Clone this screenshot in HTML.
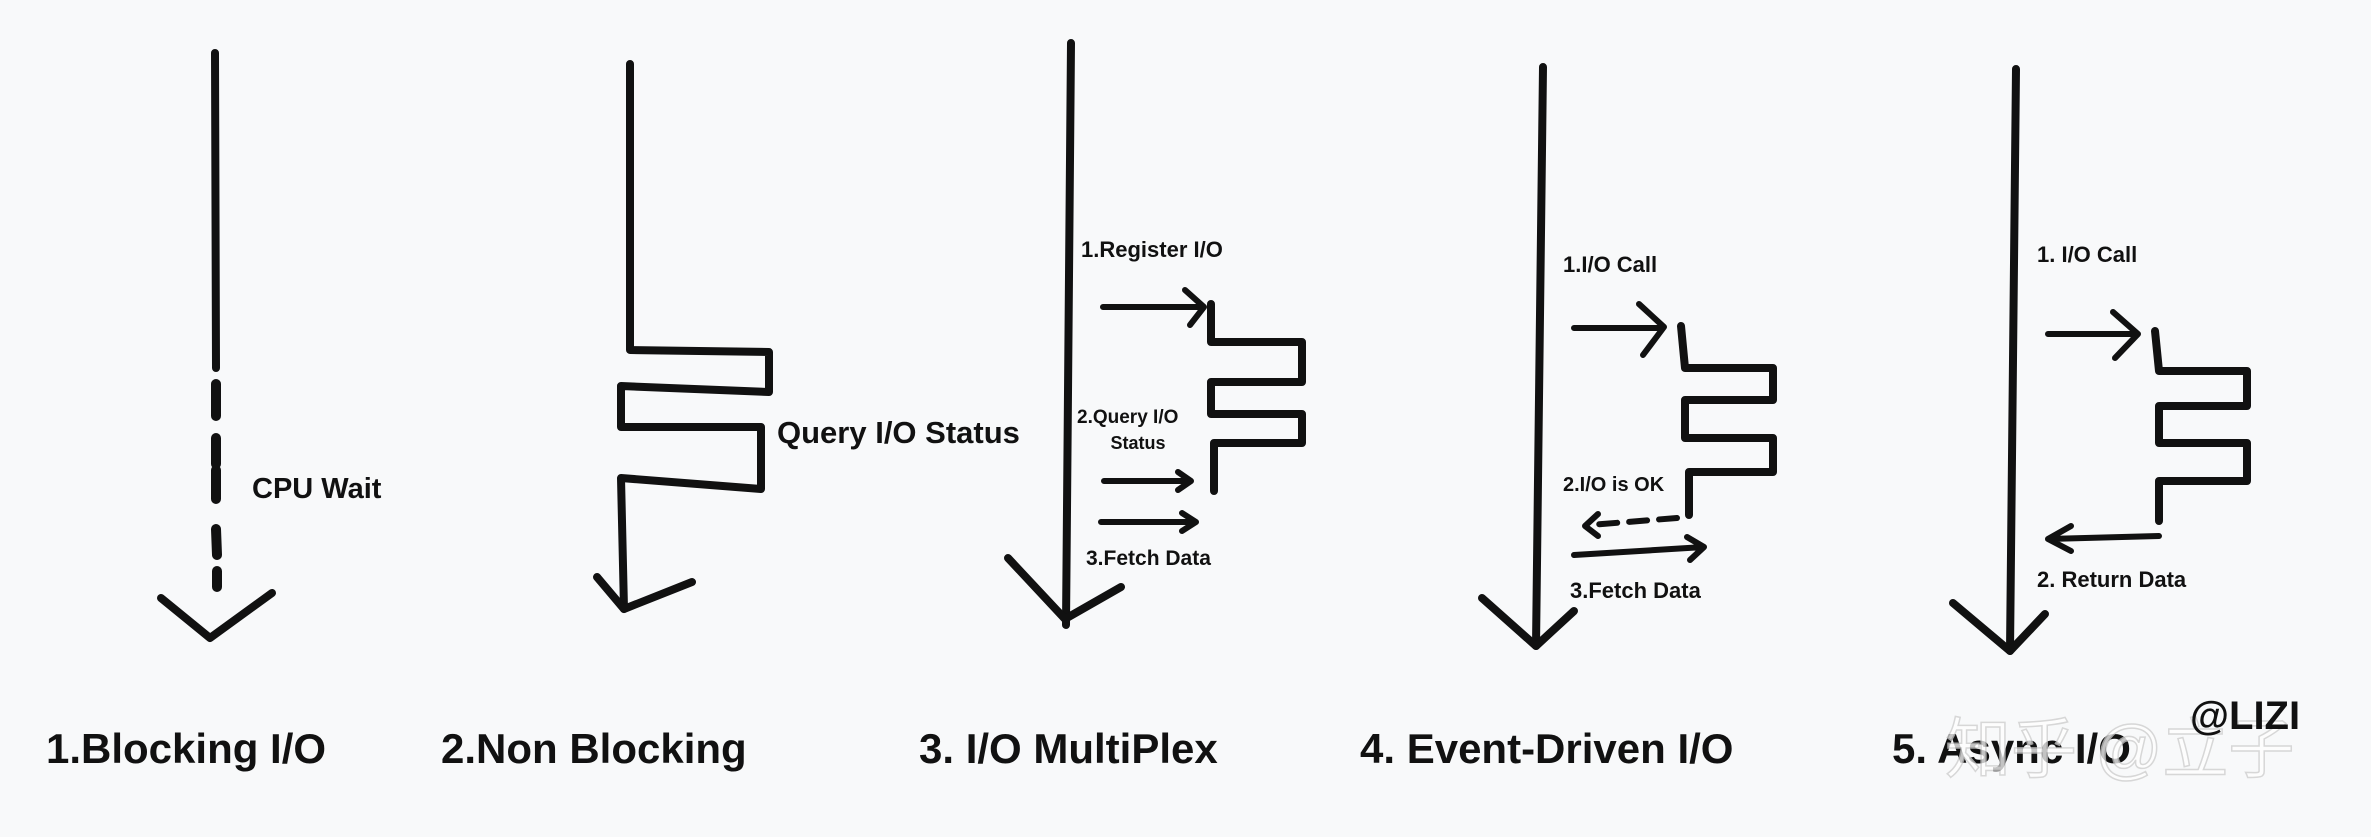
<!DOCTYPE html>
<html><head><meta charset="utf-8"><style>
html,body{margin:0;padding:0;background:#f8f9fa;}
svg{display:block}
text{font-family:"Liberation Sans","Noto Sans CJK SC",sans-serif;fill:#111;font-weight:bold;}
</style></head><body>
<svg width="2371" height="837" viewBox="0 0 2371 837" xmlns="http://www.w3.org/2000/svg">
<rect width="2371" height="837" fill="#f8f9fa"/>
<g fill="none" stroke="#111" stroke-width="8" stroke-linecap="round" stroke-linejoin="round">
<!-- Panel 1 -->
<path d="M215 53 L216 368"/>
<path d="M216 384 L216 416 M216 438 L216 464 M216 470 L216 499 M216 529 L217 555 M217 571 L217 587" stroke-width="10"/>
<path d="M161 598 L210 638 L272 593"/>
<!-- Panel 2 -->
<path d="M630 64 L630 350 L769 352 L769 392 L621 386 L621 427 L761 427 L761 489 L621 478 L624 609"/>
<path d="M597 577 L624 609 L692 582"/>
<!-- Panel 3 -->
<path d="M1071 43 L1066 625"/>
<path d="M1008 558 L1065 619 L1121 587"/>
<path d="M1211 304 L1211 342 L1302 342 L1302 382 L1211 382 L1211 414 L1302 414 L1302 443 L1214 443 L1214 491"/>
</g>
<g fill="none" stroke="#111" stroke-width="6" stroke-linecap="round" stroke-linejoin="round">
<path d="M1103 307 L1202 307 M1185 290 L1204 307 L1190 325"/>
<path d="M1104 481 L1190 481 M1178 472 L1191 481 L1178 490"/>
<path d="M1101 522 L1195 522 M1182 513 L1196 522 L1182 531"/>
</g>
<g fill="none" stroke="#111" stroke-width="8" stroke-linecap="round" stroke-linejoin="round">
<!-- Panel 4 -->
<path d="M1543 67 L1536 646"/>
<path d="M1482 598 L1536 646 L1574 611"/>
<path d="M1681 326 L1685 368 L1773 368 L1773 400 L1685 400 L1685 438 L1773 438 L1773 472 L1689 472 L1689 515"/>
<!-- Panel 5 -->
<path d="M2016 69 L2010 651"/>
<path d="M1953 603 L2010 651 L2045 614"/>
<path d="M2155 331 L2159 371 L2247 371 L2247 406 L2159 406 L2159 443 L2247 443 L2247 481 L2159 481 L2159 521"/>
</g>
<g fill="none" stroke="#111" stroke-width="6" stroke-linecap="round" stroke-linejoin="round">
<path d="M1574 328 L1662 328 M1639 304 L1664 327 L1643 355"/>
<path d="M1677 518 L1590 525" stroke-dasharray="18 12"/>
<path d="M1598 514 L1585 526 L1598 536"/>
<path d="M1574 555 L1704 547 M1687 537 L1704 547 L1690 560"/>
<path d="M2048 334 L2136 334 M2113 312 L2138 334 L2115 358"/>
<path d="M2159 536 L2048 539 M2071 526 L2048 539 L2071 551"/>
</g>
<!-- labels -->
<text x="252" y="498" font-size="29">CPU Wait</text>
<text x="777" y="443" font-size="31">Query I/O Status</text>
<text x="1081" y="257" font-size="22">1.Register I/O</text>
<text x="1077" y="423" font-size="19">2.Query I/O</text>
<text x="1138" y="449" font-size="18" text-anchor="middle">Status</text>
<text x="1086" y="565" font-size="21">3.Fetch Data</text>
<text x="1563" y="272" font-size="22">1.I/O Call</text>
<text x="1563" y="491" font-size="20">2.I/O is OK</text>
<text x="1570" y="598" font-size="22">3.Fetch Data</text>
<text x="2037" y="262" font-size="22">1. I/O Call</text>
<text x="2037" y="587" font-size="22">2. Return Data</text>
<!-- titles -->
<text x="46" y="763" font-size="42">1.Blocking I/O</text>
<text x="441" y="763" font-size="42">2.Non Blocking</text>
<text x="919" y="763" font-size="42">3. I/O MultiPlex</text>
<text x="1360" y="763" font-size="42">4. Event-Driven I/O</text>
<text x="1892" y="763" font-size="42">5. Async I/O</text>
<!-- watermark -->
<text x="1945" y="772" font-size="66" style="fill:#fff;opacity:0.75;stroke:#ccc;stroke-width:1.5;font-weight:normal">知乎 @立子</text>
<text x="2190" y="729" font-size="40">@LIZI</text>
</svg>
</body></html>
